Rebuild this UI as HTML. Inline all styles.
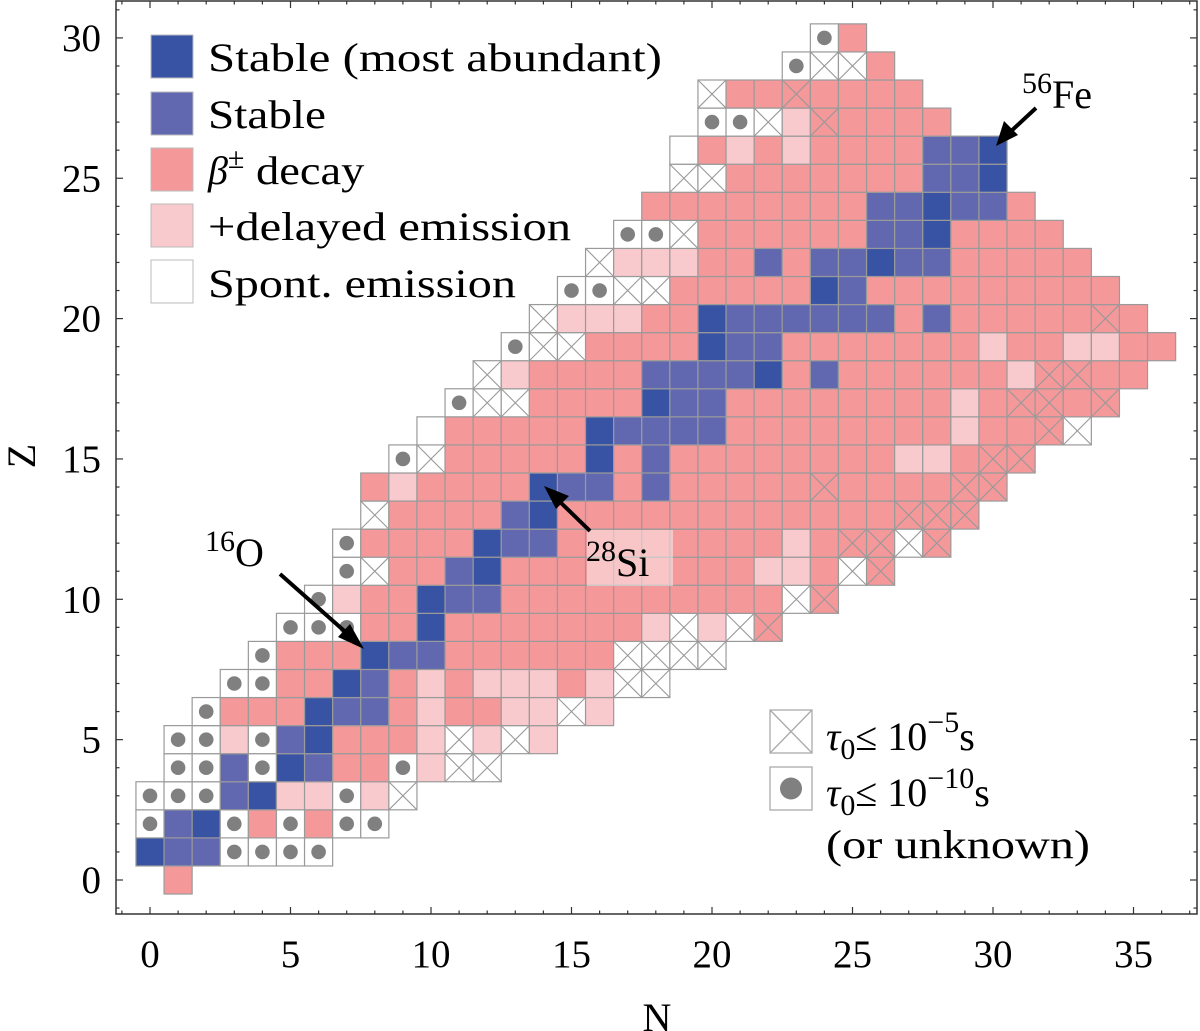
<!DOCTYPE html>
<html><head><meta charset="utf-8">
<style>
html,body{margin:0;padding:0;background:#fff;}
svg{display:block;font-family:"Liberation Serif",serif;}
</style></head>
<body>
<svg id="chart" width="1200" height="1031" viewBox="0 0 1200 1031" xmlns="http://www.w3.org/2000/svg">
  <g id="cells"></g>
  <g id="axes"></g>
  <g id="legend">
    <rect x="151" y="35" width="42" height="43" fill="#3953a4" stroke="#bbb"/>
    <text x="208" y="71" font-size="40" textLength="454" lengthAdjust="spacingAndGlyphs">Stable (most abundant)</text>
    <rect x="151" y="92" width="42" height="43" fill="#6168b0" stroke="#bbb"/>
    <text x="208" y="128" font-size="40" textLength="118" lengthAdjust="spacingAndGlyphs">Stable</text>
    <rect x="151" y="148" width="42" height="43" fill="#f4989a" stroke="#bbb"/>
    <text x="208" y="184" font-size="40"><tspan font-style="italic">β</tspan><tspan font-size="30" dy="-16">±</tspan><tspan dy="16" textLength="120" lengthAdjust="spacingAndGlyphs"> decay</tspan></text>
    <rect x="151" y="204" width="42" height="43" fill="#f9cacd" stroke="#bbb"/>
    <text x="208" y="240" font-size="40" textLength="363" lengthAdjust="spacingAndGlyphs">+delayed emission</text>
    <rect x="151" y="260" width="42" height="43" fill="#fff" stroke="#bbb"/>
    <text x="208" y="297" font-size="40" textLength="308" lengthAdjust="spacingAndGlyphs">Spont. emission</text>

    <g>
      <rect x="770" y="710" width="42" height="43" fill="#fff" stroke="#aaa" stroke-width="1.3"/>
      <line x1="770" y1="710" x2="812" y2="753" stroke="#aaa" stroke-width="1.3"/>
      <line x1="812" y1="710" x2="770" y2="753" stroke="#aaa" stroke-width="1.3"/>
      <text x="826" y="750" font-size="40"><tspan font-style="italic">τ</tspan><tspan font-size="30" dy="9">0</tspan><tspan dy="-9">≤ 10</tspan><tspan font-size="30" dy="-18">−5</tspan><tspan dy="18">s</tspan></text>
    </g>
    <g>
      <rect x="770" y="767" width="42" height="43" fill="#fff" stroke="#aaa" stroke-width="1.3"/>
      <circle cx="791" cy="788.5" r="11" fill="#808080"/>
      <text x="826" y="806" font-size="40"><tspan font-style="italic">τ</tspan><tspan font-size="30" dy="9">0</tspan><tspan dy="-9">≤ 10</tspan><tspan font-size="30" dy="-18">−10</tspan><tspan dy="18">s</tspan></text>
      <text x="826" y="858" font-size="40" textLength="264" lengthAdjust="spacingAndGlyphs">(or unknown)</text>
    </g>
  </g>
  <g id="annotations">
    <text x="205" y="566" font-size="40"><tspan font-size="30" dy="-15">16</tspan><tspan dy="15">O</tspan></text>
    <line x1="280" y1="574" x2="350" y2="636" stroke="#000" stroke-width="4"/>
    <polygon points="364,649 338,637 350,624" fill="#000"/>
    <rect x="587" y="530" width="86" height="56" fill="#fff" fill-opacity="0.45"/>
    <text x="586" y="576" font-size="40"><tspan font-size="30" dy="-15">28</tspan><tspan dy="15">Si</tspan></text>
    <line x1="590" y1="531" x2="556" y2="498" stroke="#000" stroke-width="4"/>
    <polygon points="544,486 569,496 556,509" fill="#000"/>
    <text x="1022" y="108" font-size="40"><tspan font-size="30" dy="-15">56</tspan><tspan dy="15">Fe</tspan></text>
    <line x1="1036" y1="108" x2="1008" y2="134" stroke="#000" stroke-width="4"/>
    <polygon points="996,146 1004,121 1018,135" fill="#000"/>
  </g>
</svg>
<script>
// Row data: for each Z, starting N and cell codes
// S stable abundant, s stable, b beta, d delayed, e spont, x spont+cross, o spont+dot, X beta+cross
const rowZ = [0,1,2,3,4,5,6,7,8,9,10,11,12,13,14,15,16,17,18,19,20,21,22,23,24,25,26,27,28,29,30];
const rowStartN = [1,0,0,0,1,1,2,3,4,5,6,7,7,8,8,9,10,11,12,13,14,15,16,17,18,19,19,20,20,23,24];
const rowCodes = [
"b",
"Sssoooo",
"osSoboboo",
"ooosSddodx",
"oosoSsbbodxx",
"oodosSbbbdxdxd",
"obbbSssbdbbddxd",
"oobbSsbdbdddbdxx",
"obbbSssbbbbbbxxxx",
"ooobbSbbbbbbbdxdxX",
"odbbSssbbbbbbbbbbxX",
"oxbbsSbbbbbbbbbddbxX",
"obbbbSssbbbbbbbbdbXXxX",
"xbbbbsSbbbbbbbbbbbbXXX",
"bdbbbbSssbsbbbbbXbbbbXX",
"oxbbbbbSbsbbbbbbbbddbXX",
"ebbbbbSssssbbbbbbbbdbbXx",
"oxxbbbbSssbbbbbbbbdbXXbX",
"xdbbbbssssSbsbbbbbbdXXbb",
"oxxbbbbSssbbbbbbbdbbddbb",
"xdddbbSssssssbsbbbbbXb",
"ooxxbbbbbSsbbbbbbbbb",
"xdddbbsbssSssbbbbb",
"ooxbbbbbbssSbbbb",
"bbbbbbbbssSssb",
"xxbbbbbbbssS",
"ebdbdbbbbssS",
"ooxdXbbbb",
"xbbXbbbb",
"oxxb",
"ob"
];
const xTicks = [0,5,10,15,20,25,30,35];
const yTicks = [0,5,10,15,20,25,30];

const NS='http://www.w3.org/2000/svg';
const xs = n => 150 + 28.1*n;
const ys = z => 880 - 28.07*z;
const CW = 28.1, CH = 28.07;
const fillOf = {S:'#3953a4',s:'#6168b0',b:'#f4989a',d:'#f9cacd',e:'#ffffff',x:'#ffffff',o:'#ffffff',X:'#f4989a'};
const nameOf = {S:'stable-abundant',s:'stable',b:'beta-decay',d:'delayed-emission',e:'spont-emission',x:'spont-short',o:'spont-very-short',X:'beta-short'};
function mk(tag, attrs, parent){const el=document.createElementNS(NS,tag);for(const k in attrs)el.setAttribute(k,attrs[k]);parent.appendChild(el);return el;}

const cells=document.getElementById('cells');
rowZ.forEach((z,i)=>{
  const codes=rowCodes[i];
  for(let j=0;j<codes.length;j++){
    const c=codes[j]; const n=rowStartN[i]+j;
    const x0=xs(n)-CW/2, y0=ys(z)-CH/2;
    const g=mk('g',{},cells);
    
    
    mk('rect',{x:x0,y:y0,width:CW,height:CH,fill:fillOf[c],stroke:'#9a9a9a','stroke-width':1.2},g);
    if(c==='x'||c==='X'){
      mk('line',{x1:x0,y1:y0,x2:x0+CW,y2:y0+CH,stroke:'#999','stroke-width':1.1},g);
      mk('line',{x1:x0+CW,y1:y0,x2:x0,y2:y0+CH,stroke:'#999','stroke-width':1.1},g);
    }
    if(c==='o'){ mk('circle',{cx:xs(n),cy:ys(z),r:7.3,fill:'#808080'},g); }
  }
});

const axes=document.getElementById('axes');
const L=116,R=1197,T=1,B=914;
const frame=mk('rect',{x:L,y:T,width:R-L,height:B-T,fill:'none',stroke:'#333','stroke-width':1.5},axes);


for(let n=-1;n<=37;n++){
  const x=xs(n); if(x<L||x>R)continue;
  const len=(n%5===0)?7:3.5;
  mk('line',{x1:x,y1:B,x2:x,y2:B-len,stroke:'#333','stroke-width':1.2},axes);
  mk('line',{x1:x,y1:T,x2:x,y2:T+len,stroke:'#333','stroke-width':1.2},axes);
}
for(let z=-1;z<=31;z++){
  const y=ys(z); if(y<T||y>B)continue;
  const len=(z%5===0)?7:3.5;
  mk('line',{x1:L,y1:y,x2:L+len,y2:y,stroke:'#333','stroke-width':1.2},axes);
  mk('line',{x1:R,y1:y,x2:R-len,y2:y,stroke:'#333','stroke-width':1.2},axes);
}
xTicks.forEach(v=>{
  const t=mk('text',{x:xs(v),y:967,'font-size':39,'text-anchor':'middle'},axes);
  t.textContent=v;
  
  
});
yTicks.forEach(v=>{
  const t=mk('text',{x:101,y:ys(v)+13,'font-size':39,'text-anchor':'end'},axes);
  t.textContent=v;
  
  
});
const xt=mk('text',{x:657,y:1031,'font-size':40,'text-anchor':'middle'},axes);
xt.textContent='N';


const yt=mk('text',{x:0,y:0,'font-size':40,'text-anchor':'middle',transform:'translate(35,456) rotate(-90)'},axes);
yt.textContent='Z';


</script>
</body></html>
